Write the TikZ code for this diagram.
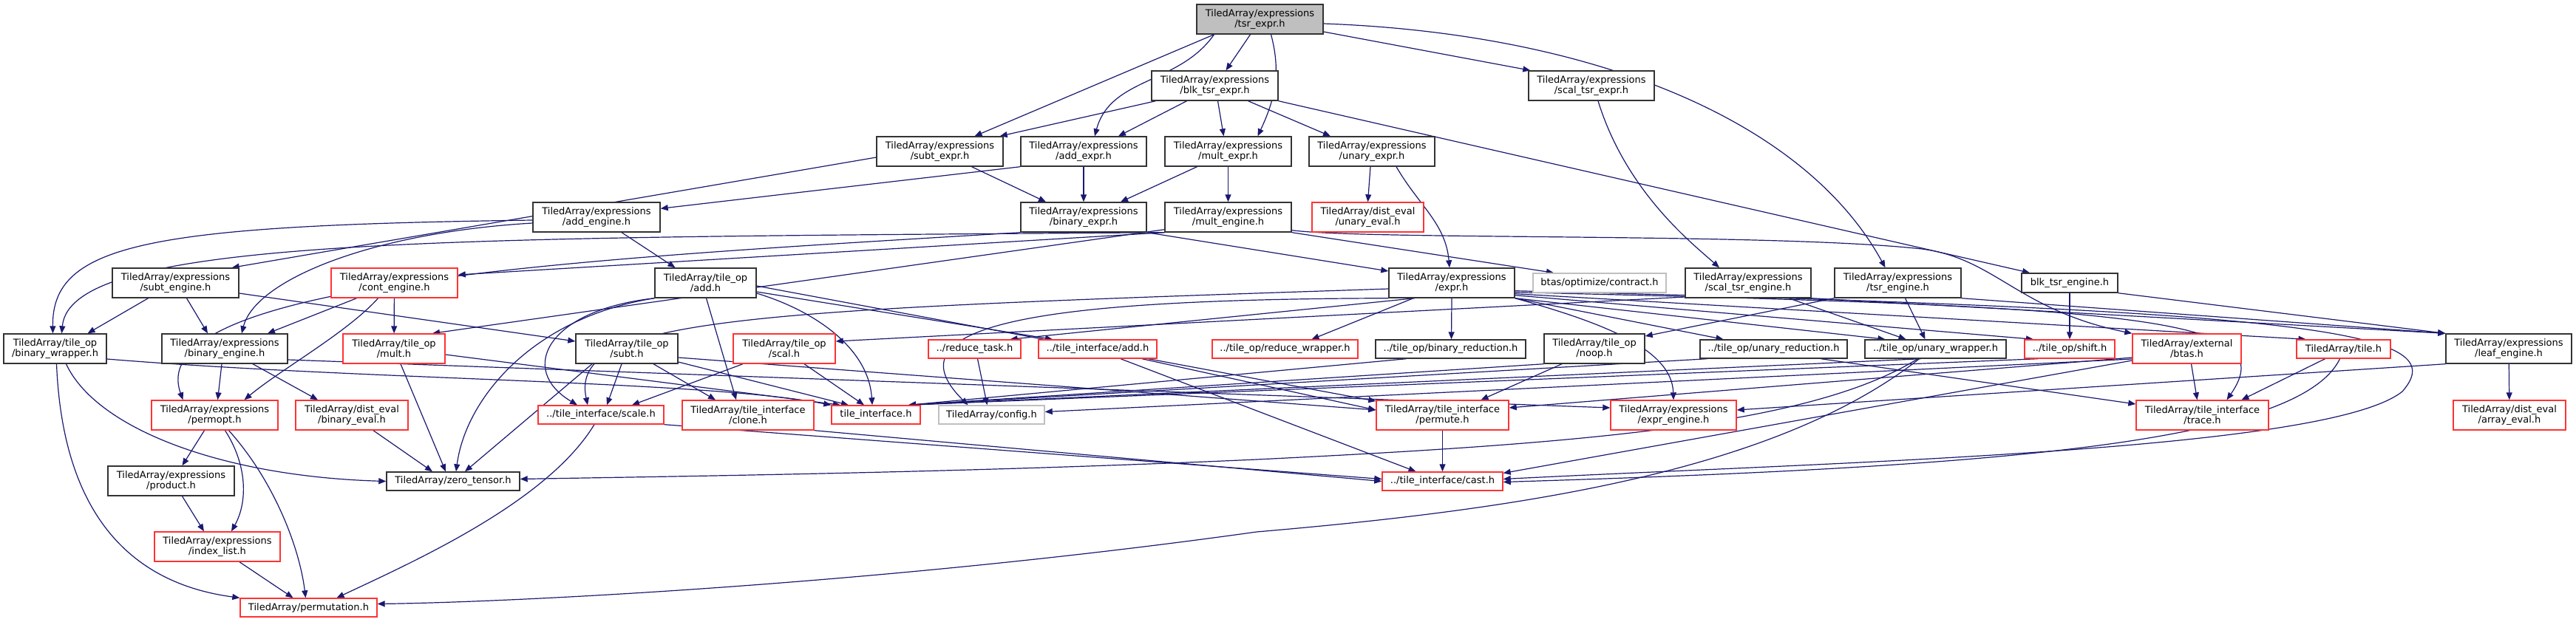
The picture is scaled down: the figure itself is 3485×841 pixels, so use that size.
\documentclass[tikz,border=0pt]{standalone}
\usepackage{fontspec}
\setmainfont{DejaVu Sans}
\usetikzlibrary{arrows.meta}
\pgfdeclarelayer{bg}
\pgfsetlayers{bg,main}
\definecolor{edgec}{HTML}{191970}
\definecolor{redc}{HTML}{FF3333}
\definecolor{grayb}{HTML}{BFBFBF}
\definecolor{topfill}{HTML}{BFBFBF}
\newcommand\nd[6]{\node[#1, minimum width=#4pt, minimum height=#5pt] (#2) at (#3) {#6};}
\tikzset{
 nbase/.style={rectangle, inner sep=0pt, fill=white, align=center, font=\fontsize{13pt}{14.5pt}\selectfont, text=black},
 nblk/.style={nbase, draw=black!80, line width=1.4pt},
 nred/.style={nbase, draw=redc, line width=1.4pt},
 ngry/.style={nbase, draw=grayb, line width=1.4pt},
 ntop/.style={nbase, draw=black!80, fill=topfill, line width=1.4pt},
 dep/.style={draw=edgec, line width=1.2pt, -{Triangle[length=10pt,width=8pt]}},
}
\begin{document}
\begin{tikzpicture}[x=1pt,y=-1pt]
\useasboundingbox (0,0) rectangle (3485,841);
% row 1-2
\nd{ntop}{tsr}{1704.5,26}{171}{40}{TiledArray/expressions\\/tsr\_expr.h}
\nd{nblk}{blk}{1643.5,116}{171}{40}{TiledArray/expressions\\/blk\_tsr\_expr.h}
\nd{nblk}{scaltsr}{2153,116}{170}{40}{TiledArray/expressions\\/scal\_tsr\_expr.h}
% row 3
\nd{nblk}{subtexpr}{1271.5,205}{171}{40}{TiledArray/expressions\\/subt\_expr.h}
\nd{nblk}{addexpr}{1466,205}{170}{40}{TiledArray/expressions\\/add\_expr.h}
\nd{nblk}{multexpr}{1661.5,205}{171}{40}{TiledArray/expressions\\/mult\_expr.h}
\nd{nblk}{unaryexpr}{1856,205}{170}{40}{TiledArray/expressions\\/unary\_expr.h}
% row 4
\nd{nblk}{addeng}{807,294}{172}{40}{TiledArray/expressions\\/add\_engine.h}
\nd{nblk}{binexpr}{1466,294}{170}{40}{TiledArray/expressions\\/binary\_expr.h}
\nd{nblk}{multeng}{1661.5,294}{171}{40}{TiledArray/expressions\\/mult\_engine.h}
\nd{nred}{unaryeval}{1850.5,294}{151}{40}{TiledArray/dist\_eval\\/unary\_eval.h}
% row 5
\nd{nblk}{subteng}{237.5,383}{171}{40}{TiledArray/expressions\\/subt\_engine.h}
\nd{nred}{conteng}{533.5,383}{171}{40}{TiledArray/expressions\\/cont\_engine.h}
\nd{nblk}{tileadd}{954.5,383}{137}{40}{TiledArray/tile\_op\\/add.h}
\nd{nblk}{expr}{1964,383}{170}{40}{TiledArray/expressions\\/expr.h}
\nd{ngry}{contract}{2164,383}{180}{26}{btas/optimize/contract.h}
\nd{nblk}{scaltsreng}{2365,383}{170}{40}{TiledArray/expressions\\/scal\_tsr\_engine.h}
\nd{nblk}{tsreng}{2567.5,383}{171}{40}{TiledArray/expressions\\/tsr\_engine.h}
\nd{nblk}{blkeng}{2800,383}{130}{26}{blk\_tsr\_engine.h}
% row 6
\nd{nblk}{binwrap}{74.5,472}{139}{40}{TiledArray/tile\_op\\/binary\_wrapper.h}
\nd{nblk}{bineng}{304,472}{170}{40}{TiledArray/expressions\\/binary\_engine.h}
\nd{nred}{mult}{533,472}{138}{40}{TiledArray/tile\_op\\/mult.h}
\nd{nblk}{subt}{848,472}{138}{40}{TiledArray/tile\_op\\/subt.h}
\nd{nred}{scal}{1061,472}{138}{40}{TiledArray/tile\_op\\/scal.h}
\nd{nred}{redtask}{1318.5,472.5}{125}{25}{../reduce\_task.h}
\nd{nred}{tiadd}{1485,472.5}{160}{25}{../tile\_interface/add.h}
\nd{nred}{redwrap}{1738.5,472.5}{197}{25}{../tile\_op/reduce\_wrapper.h}
\nd{nblk}{binred}{1962.5,472.5}{203}{25}{../tile\_op/binary\_reduction.h}
\nd{nblk}{noop}{2157,472}{136}{40}{TiledArray/tile\_op\\/noop.h}
\nd{nblk}{unred}{2399.5,472.5}{199}{25}{../tile\_op/unary\_reduction.h}
\nd{nblk}{unwrap}{2618.5,472.5}{191}{25}{../tile\_op/unary\_wrapper.h}
\nd{nred}{shift}{2800,472.5}{122}{25}{../tile\_op/shift.h}
\nd{nred}{btas}{2958.5,472}{147}{40}{TiledArray/external\\/btas.h}
\nd{nred}{tile}{3170.5,472.5}{127}{25}{TiledArray/tile.h}
\nd{nblk}{leafeng}{3394,472}{170}{40}{TiledArray/expressions\\/leaf\_engine.h}
% row 7
\nd{nred}{permopt}{290.5,562}{171}{40}{TiledArray/expressions\\/permopt.h}
\nd{nred}{bineval}{476,562}{152}{40}{TiledArray/dist\_eval\\/binary\_eval.h}
\nd{nred}{scale}{813,561.5}{170}{25}{../tile\_interface/scale.h}
\nd{nred}{clone}{1012,562}{178}{40}{TiledArray/tile\_interface\\/clone.h}
\nd{nred}{tileif}{1185,561.5}{120}{25}{tile\_interface.h}
\nd{ngry}{config}{1341.5,561.5}{143}{25}{TiledArray/config.h}
\nd{nred}{permute}{1951.5,562}{179}{40}{TiledArray/tile\_interface\\/permute.h}
\nd{nred}{exprengine}{2264,562}{170}{40}{TiledArray/expressions\\/expr\_engine.h}
\nd{nred}{trace}{2979.5,562}{179}{40}{TiledArray/tile\_interface\\/trace.h}
\nd{nred}{arrayeval}{3395,562}{152}{40}{TiledArray/dist\_eval\\/array\_eval.h}
% row 8-10
\nd{nblk}{product}{231.5,651}{171}{40}{TiledArray/expressions\\/product.h}
\nd{nblk}{zero}{613,651.5}{180}{25}{TiledArray/zero\_tensor.h}
\nd{nred}{cast}{1951.5,651.5}{163}{25}{../tile\_interface/cast.h}
\nd{nred}{indexlist}{294,740}{170}{40}{TiledArray/expressions\\/index\_list.h}
\nd{nred}{permutation}{417.5,822.5}{185}{25}{TiledArray/permutation.h}

\begin{pgfonlayer}{bg}
% from tsr_expr
\draw[dep] ([xshift=-13pt]tsr.south) -- ([xshift=15pt]blk.north);
\draw[dep] ([xshift=-62pt]tsr.south) -- ([xshift=47pt]subtexpr.north);
\draw[dep] ([xshift=-62pt]tsr.south) to[out=235,in=75] ([xshift=15pt]addexpr.north);
\draw[dep] ([xshift=15pt]tsr.south) to[out=-75,in=65] ([xshift=40pt]multexpr.north);
\draw[dep] ([yshift=-17pt]tsr.east) -- ([xshift=3pt]scaltsr.north west);
\draw[dep] ([yshift=-6pt]tsr.east) .. controls (2150,45) and (2440,160) .. ([xshift=-17pt]tsreng.north);
% from blk_tsr_expr
\draw[dep] ([xshift=-80pt]blk.south) -- ([xshift=-5pt]subtexpr.north east);
\draw[dep] ([xshift=-38pt]blk.south) -- ([xshift=47pt]addexpr.north);
\draw[dep] ([xshift=4pt]blk.south) -- ([xshift=-6pt]multexpr.north);
\draw[dep] ([xshift=45pt]blk.south) -- ([xshift=-56pt]unaryexpr.north);
\draw[dep] (blk.south east) -- ([xshift=-54pt]blkeng.north);
% scal_tsr_expr
\draw[dep] ([xshift=9pt]scaltsr.south) .. controls (2200,260) and (2290,330) .. ([xshift=-39pt]scaltsreng.north);
% expr level
\draw[dep] ([xshift=43pt]subtexpr.south) -- ([xshift=-51pt]binexpr.north);
\draw[dep] (addexpr) -- (binexpr);
\draw[dep] ([xshift=-42pt]multexpr.south) -- ([xshift=50pt]binexpr.north);
\draw[dep] (multexpr) -- (multeng);
\draw[dep] ([yshift=-8pt]subtexpr.west) -- ([xshift=-10pt]subteng.north east);
\draw[dep] (addexpr.south west) -- ([yshift=-9pt]addeng.north east);
\draw[dep] ([xshift=-2pt]unaryexpr.south) -- (unaryeval.north);
\draw[dep] ([xshift=33pt]unaryexpr.south) to[out=-60,in=95] ([xshift=-3pt]expr.north);
\draw[dep] (binexpr.south east) -- ([yshift=16pt]expr.west);
% mult_engine
\draw[dep] (multeng.south east) -- ([xshift=-62pt]contract.north);
\draw[dep] ([yshift=3pt]multeng.south east) .. controls (1850,325) and (2400,315) .. (2600,337) .. controls (2700,350) and (2730,420) .. (btas.north west);
\draw[dep] (multeng.south west) -- ([yshift=11pt]conteng.east);
\draw[dep] ([yshift=4pt]multeng.south west) -- ([xshift=52pt]mult.north);
\draw[dep] (multeng.south west) .. controls (600,322) and (95,320) .. ([xshift=9pt]binwrap.north);
% add_engine
\draw[dep] ([yshift=-4pt]addeng.west) .. controls (200,305) and (70,330) .. ([xshift=-3pt]binwrap.north);
\draw[dep] ([yshift=-8pt]addeng.west) .. controls (500,315) and (345,380) .. ([xshift=23pt]bineng.north);
\draw[dep] ([xshift=34pt]addeng.south) -- ([xshift=-41pt]tileadd.north);
% subt_engine
\draw[dep] ([xshift=-37pt]subteng.south) -- ([xshift=44pt]binwrap.north);
\draw[dep] ([xshift=15pt]subteng.south) -- ([xshift=-23pt]bineng.north);
\draw[dep] ([yshift=-14pt]subteng.east) -- ([yshift=10pt]subt.west);
% cont_engine
\draw[dep] ([xshift=-51pt]conteng.south) -- ([xshift=58pt]bineng.north);
\draw[dep] (conteng) -- (mult);
\draw[dep] ([xshift=-22pt]conteng.south) .. controls (470,450) and (380,500) .. ([xshift=40pt]permopt.north);
% binary_expr
\draw[dep] (binexpr.south west) .. controls (800,350) and (190,380) .. ([xshift=-43pt]permopt.north);
% binary_engine
\draw[dep] ([xshift=-4pt]bineng.south) -- ([xshift=4pt]permopt.north);
\draw[dep] ([xshift=38pt]bineng.south) -- ([xshift=-46pt]bineval.north);
\draw[dep] ([yshift=-15pt]bineng.east) -- ([yshift=10pt]exprengine.west);
% binary_wrapper
\draw[dep] ([xshift=15pt]binwrap.south) .. controls (130,580) and (300,645) .. (zero.west);
\draw[dep] ([xshift=2pt]binwrap.south) .. controls (85,700) and (180,790) .. (permutation.north west);
\draw[dep] ([yshift=-14pt]binwrap.east) .. controls (500,515) and (950,515) .. (tileif.north west);
% mult.h
\draw[dep] ([xshift=9pt]mult.south) -- ([xshift=-10pt]zero.north);
\draw[dep] ([yshift=-8pt]mult.east) -- ([xshift=-48pt]tileif.north);
% subt.h
\draw[dep] ([xshift=36pt]subt.south) -- ([xshift=-44pt]clone.north);
\draw[dep] ([xshift=-7pt]subt.south) -- ([xshift=8pt]scale.north);
\draw[dep] ([xshift=-47pt]subt.south) -- ([xshift=16pt]zero.north);
\draw[dep] ([yshift=-18pt]subt.east) -- ([xshift=-37pt]tileif.north);
\draw[dep] ([yshift=-12pt]subt.east) -- ([yshift=7pt]permute.west);
% tile_op/add.h
\draw[dep] ([xshift=1pt]tileadd.south) -- ([xshift=-16pt]clone.north);
\draw[dep] (tileadd.south west) .. controls (740,420) and (700,500) .. ([xshift=-32pt]scale.north);
\draw[dep] (tileadd.south west) .. controls (720,430) and (630,540) .. ([xshift=4pt]zero.north);
\draw[dep] ([yshift=-14pt]tileadd.east) .. controls (1100,420) and (1175,470) .. ([xshift=-5pt]tileif.north);
\draw[dep] ([yshift=-12pt]tileadd.east) -- ([xshift=-61pt]tiadd.north);
\draw[dep] ([yshift=-4pt]tileadd.east) -- ([yshift=19pt]permute.west);
% scal.h
\draw[dep] ([xshift=-56pt]scal.south) -- ([xshift=42pt]scale.north);
\draw[dep] ([xshift=27pt]scal.south) -- ([xshift=-16pt]tileif.north);
\draw[dep] ([yshift=-19pt]scaltsreng.west) -- ([yshift=10pt]scal.east);
% expr.h
\draw[dep] ([xshift=-50pt]expr.south) -- ([xshift=48pt]redtask.north);
\draw[dep] (expr.south west) .. controls (1400,405) and (1200,440) .. ([xshift=-32pt]config.north);
\draw[dep] ([yshift=-8pt]expr.west) .. controls (1000,420) and (770,430) .. ([xshift=-18pt]scale.north);
\draw[dep] ([xshift=-52pt]expr.south) -- ([xshift=36pt]redwrap.north);
\draw[dep] (expr.south) -- ([xshift=1pt]binred.north);
\draw[dep] (expr.south east) -- ([xshift=-68pt]unred.north);
\draw[dep] (expr.south east) -- ([xshift=-68pt]unwrap.north);
\draw[dep] (expr.south east) .. controls (2160,435) and (2262,470) .. (exprengine.north);
\draw[dep] ([yshift=4pt]expr.south east) -- ([xshift=-49pt]shift.north);
\draw[dep] ([yshift=6pt]expr.south east) -- ([xshift=-51pt]tile.north);
\draw[dep] ([yshift=8pt]expr.south east) .. controls (2900,415) and (3090,430) .. ([xshift=33pt]trace.north);
\draw[dep] ([yshift=10pt]expr.south east) .. controls (3150,420) and (3320,450) .. (3250,530) .. controls (3150,610) and (2500,625) .. ([yshift=3pt]cast.east);
% reduce_task, tile_interface/add
\draw[dep] ([xshift=4pt]redtask.south) -- ([xshift=-6pt]config.north);
\draw[dep] ([xshift=31pt]tiadd.south) -- ([xshift=-36pt]cast.north);
\draw[dep] ([xshift=60pt]tiadd.south) -- ([yshift=7pt]permute.west);
% into tile_interface.h from the right
\draw[dep] ([xshift=-60pt]binred.south) -- ([xshift=44pt]tileif.north);
\draw[dep] (noop.south west) -- ([xshift=44pt]tileif.north);
\draw[dep] ([xshift=-90pt]unred.south) -- ([xshift=44pt]tileif.north);
\draw[dep] ([xshift=-20pt]unwrap.south) -- ([xshift=44pt]tileif.north);
\draw[dep] ([xshift=-43pt]shift.south) -- ([xshift=44pt]tileif.north);
% noop, engines
\draw[dep] ([xshift=-44pt]noop.south) -- ([xshift=52pt]permute.north);
\draw[dep] (tsreng.south west) -- ([yshift=17pt]noop.east);
\draw[dep] ([xshift=10pt]tsreng.south) -- ([xshift=-14pt]unwrap.north);
\draw[dep] ([xshift=55pt]scaltsreng.south) -- ([xshift=-40pt]unwrap.north);
\draw[dep] (blkeng) -- (shift);
\draw[dep] (scaltsreng.south east) -- (leafeng.north west);
\draw[dep] (tsreng.south east) -- (leafeng.north west);
\draw[dep] (blkeng.south east) -- (leafeng.north west);
% unary_wrapper
\draw[dep] ([xshift=-24pt]unwrap.south) .. controls (2450,575) and (2150,600) .. (1700,622) .. controls (1300,640) and (900,645) .. ([yshift=3pt]zero.east);
\draw[dep] ([xshift=-22pt]unwrap.south) .. controls (2400,640) and (2050,690) .. (1700,720) .. controls (1200,790) and (700,815) .. ([yshift=5pt]permutation.east);
% btas
\draw[dep] ([yshift=-12pt]btas.west) -- ([yshift=10pt]permute.east);
\draw[dep] ([yshift=-16pt]btas.west) -- ([yshift=11pt]cast.east);
\draw[dep] ([yshift=-14pt]btas.west) -- ([yshift=4pt]config.east);
\draw[dep] ([xshift=6pt]btas.south) -- ([xshift=-7pt]trace.north);
% tile.h
\draw[dep] ([xshift=-25pt]tile.south) -- ([xshift=53pt]trace.north);
\draw[dep] ([xshift=-5pt]tile.south) .. controls (3110,600) and (2700,632) .. ([yshift=-1pt]cast.east);
% leaf_engine
\draw[dep] (leafeng.south west) -- ([yshift=7pt]exprengine.east);
\draw[dep] (leafeng) -- (arrayeval);
% lower left
\draw[dep] ([xshift=-14pt]permopt.south) -- ([xshift=15pt]product.north);
\draw[dep] ([xshift=14pt]permopt.south) .. controls (335,630) and (335,680) .. ([xshift=19pt]indexlist.north);
\draw[dep] ([xshift=19pt]permopt.south) .. controls (370,650) and (405,740) .. ([xshift=-4pt]permutation.north);
\draw[dep] ([xshift=15pt]product.south) -- ([xshift=-18pt]indexlist.north);
\draw[dep] ([xshift=30pt]indexlist.south) -- ([xshift=-21pt]permutation.north);
\draw[dep] ([xshift=-9pt]scale.south) .. controls (740,680) and (560,760) .. ([xshift=38pt]permutation.north);
\draw[dep] (scale.south east) -- ([yshift=3pt]cast.west);
\draw[dep] (clone.south east) -- (cast.west);
\draw[dep] (permute) -- (cast);
\draw[dep] ([xshift=64pt]unred.south) -- ([yshift=15pt]trace.west);
\draw[dep] ([xshift=29pt]bineval.south) -- ([xshift=-28pt]zero.north);
\end{pgfonlayer}
\end{tikzpicture}
\end{document}
